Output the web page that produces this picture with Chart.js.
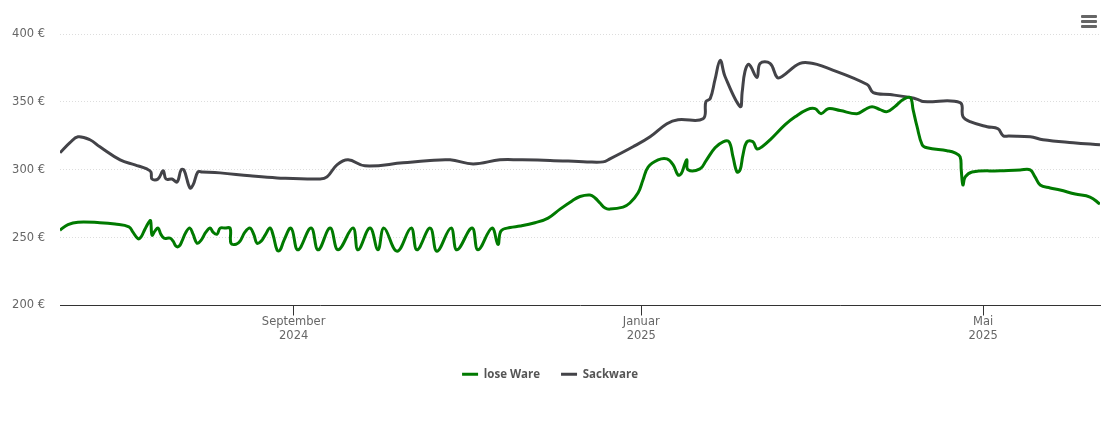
<!DOCTYPE html>
<html>
<head>
<meta charset="utf-8">
<title>Preisentwicklung</title>
<script src="https://cdn.jsdelivr.net/npm/chart.js@4"></script>
<style>
  html, body { margin: 0; padding: 0; background: #fff; overflow: hidden; }
  #wrap { position: relative; width: 1110px; height: 423px; }
  #menu { position: absolute; left: 1081px; top: 15px; width: 16px; }
  #menu div { height: 3px; margin-bottom: 2px; background: #666; border-radius: 1px; }
</style>
</head>
<body>
<div id="wrap">
  <canvas id="chart" width="1110" height="423"></canvas>
  <div id="menu"><div></div><div></div><div></div></div>
</div>
<script>
/* ------------------------------------------------ */

// x values are days since 11 June 2024
let looseDays = [0, 2.8, 6.3, 14, 19.3, 24.2, 25.6, 27.4, 28.4, 29.8, 31.2, 31.8, 32.3, 33.3, 34.4, 35.4, 36.5, 38.6, 39.7, 40.7, 41.8, 42.8, 44.2, 45.6, 46.7, 48.1, 49.5, 51.2, 52.7, 53.7, 55.1, 56.2, 58, 59.7, 60, 61.8, 63.2, 64.9, 66.7, 68.1, 69.1, 70.6, 72, 73.7, 74.8, 76.2, 77.2, 78.6, 81.1, 83.5, 88.1, 90.6, 94.8, 97.6, 102.8, 104.6, 108.8, 111.6, 113.7, 118.3, 123.2, 125.3, 129.9, 132.3, 137.2, 139.3, 144.6, 146.7, 151.6, 153.7, 154.8, 158, 161.5, 166.7, 171.3, 175.5, 179.7, 182.5, 186, 187.8, 189.5, 191.3, 193, 197.6, 200, 202.9, 204.6, 206.4, 209.9, 213, 215.2, 216.9, 218, 219.4, 220, 220.4, 224.6, 226.7, 229.9, 232.7, 234.8, 236.2, 237.6, 238.7, 239.7, 241.1, 243.2, 244.6, 246.4, 249.2, 254.5, 258, 262.2, 265, 267.1, 269.6, 273.8, 279.7, 282.5, 285, 287.8, 290.3, 293, 295.9, 298.4, 299.4, 300.8, 302.6, 304.3, 311.3, 314.1, 315.9, 316.3, 316.9, 317.7, 320.1, 330, 337, 340.5, 342.2, 344, 347.5, 351, 356.3, 361.5, 365];
let looseValues = [255.5, 259.6, 261.4, 261, 260, 258, 254, 249.2, 250.3, 256.2, 261.4, 262.5, 251.8, 254.8, 257, 252.5, 249.6, 249.6, 247.4, 243.7, 243.7, 247.4, 254, 257, 252.5, 245.9, 248, 254, 257, 254, 252.5, 257, 257, 257, 245.9, 245.1, 247.4, 254, 257, 251.8, 245.9, 247.4, 251.8, 257, 251.8, 240.7, 240.7, 248, 257, 241, 257, 241, 257, 241, 257, 241, 257, 241, 257, 240, 257, 241, 257, 240, 257, 241, 257, 241, 257, 245, 255, 257.4, 258.5, 261, 264.4, 271, 277, 280.3, 281.4, 279.2, 275.5, 271.8, 271, 272.5, 275.5, 283, 292.5, 302, 307.3, 308, 303.6, 296.2, 297, 305, 307.3, 300, 300.6, 306.6, 316.2, 320.6, 320.6, 309.5, 298.4, 300, 311, 320.6, 320.6, 315.4, 317, 322, 333.2, 339, 344.3, 345, 341.3, 345, 343.6, 341.3, 344.3, 346.5, 344.3, 342.8, 346.5, 351.7, 353.2, 344.3, 331.7, 318.4, 316.2, 314, 312.5, 309.5, 300, 288.8, 294.7, 298.4, 299.2, 299.8, 299.9, 294.7, 288.8, 286.6, 285.1, 282.1, 279.9, 274.7];

let sackDays = [0, 3.5, 6.3, 10.5, 14, 21.1, 26.3, 30.5, 31.9, 32.3, 34.4, 36.2, 37.2, 39.3, 41.1, 42.5, 43.5, 45.6, 46.7, 48.4, 50, 56.2, 66.7, 76.2, 91.3, 93.7, 97.2, 101.1, 107, 120.4, 128.8, 136.9, 145, 154.4, 161.5, 172, 185, 190.6, 193, 201.1, 207.1, 213, 216.9, 225.7, 226.7, 228.2, 229.9, 231.7, 233.4, 238.7, 239.4, 240.4, 241.8, 244.6, 245.7, 249.2, 251.7, 253.4, 259.7, 264.3, 267.8, 283.3, 285.4, 291.3, 298.4, 301.2, 302.9, 315.9, 316.9, 319.4, 325.4, 329.2, 331, 333, 340.5, 345, 355.6, 365];
let sackValues = [312.5, 319.9, 324.3, 322.1, 316.9, 307.3, 303.6, 300.6, 298.4, 293.2, 293.2, 299.2, 293.2, 293.2, 291, 299.9, 299.9, 286.6, 288.8, 298.4, 298.3, 297.7, 295.5, 294, 293.2, 294.7, 303.6, 307.3, 302.9, 305.1, 306.6, 307.3, 304.3, 307.3, 307.3, 306.9, 305.8, 305.8, 308, 316.9, 324.3, 333.9, 336.9, 337.6, 350.2, 352.4, 366.5, 380.6, 368.7, 346.5, 356.9, 372.4, 377.6, 368, 378.3, 378.3, 368, 368.7, 378.3, 378.3, 376.1, 362.8, 356.9, 355.4, 353.2, 351.7, 350.2, 349.5, 339.1, 335.4, 331.7, 330.2, 325.1, 324.8, 324.3, 322.1, 319.9, 318.4];

let yTicks = [200, 250, 300, 350, 400];
let xTickDays = [82, 204, 324];
let xTickLabels = [['September', '2024'], ['Januar', '2025'], ['Mai', '2025']];

/* ------------------------------------------------ */

function toPoints(days, values) {
  return days.map((d, i) => ({ x: d, y: values[i] }));
}

function generateChart() {
  let ctx = document.getElementById('chart').getContext('2d');
  let tickFont = { family: 'DejaVu Sans', size: 11.5 };

  let config = {
    type: 'line',
    data: {
      datasets: [
        { label: 'lose Ware', data: toPoints(looseDays, looseValues), borderColor: '#007a00', backgroundColor: '#007a00', borderWidth: 3 },
        { label: 'Sackware', data: toPoints(sackDays, sackValues), borderColor: '#434348', backgroundColor: '#434348', borderWidth: 3 },
      ],
    },
    options: {
      responsive: false,
      animation: false,
      layout: { padding: { top: 34, right: 10, bottom: 33, left: 0 } },
      elements: {
        point: { radius: 0 },
        line: { tension: 0.4 },
      },
      scales: {
        x: {
          type: 'linear',
          min: 0,
          max: 365,
          afterBuildTicks: (axis) => { axis.ticks = xTickDays.map((d) => ({ value: d })); },
          afterFit: (axis) => { axis.height = 42; },
          border: { color: '#333', width: 1 },
          grid: { drawOnChartArea: false, drawTicks: true, tickLength: 10, tickColor: '#333' },
          ticks: {
            color: '#666',
            font: tickFont,
            padding: 0,
            maxRotation: 0,
            autoSkip: false,
            callback: (value) => xTickLabels[xTickDays.indexOf(value)],
          },
        },
        y: {
          min: 200,
          max: 400,
          afterBuildTicks: (axis) => { axis.ticks = yTicks.map((v) => ({ value: v })); },
          afterFit: (axis) => { axis.width = 60; },
          border: { display: false, dash: [1, 2] },
          grid: { color: '#dddddd', drawTicks: false, lineWidth: 1 },
          ticks: {
            color: '#666',
            font: tickFont,
            padding: 15,
            callback: (value) => value + ' €',
          },
        },
      },
      plugins: {
        tooltip: { enabled: false },
        legend: {
          position: 'bottom',
          labels: {
            usePointStyle: true,
            pointStyle: 'line',
            pointStyleWidth: 16,
            color: '#555',
            padding: 21,
            font: { family: 'Open Sans', size: 11.5, weight: 'bold' },
          },
        },
      },
    },
  };

  return new Chart(ctx, config);
}

let chart = generateChart();
</script>
</body>
</html>
